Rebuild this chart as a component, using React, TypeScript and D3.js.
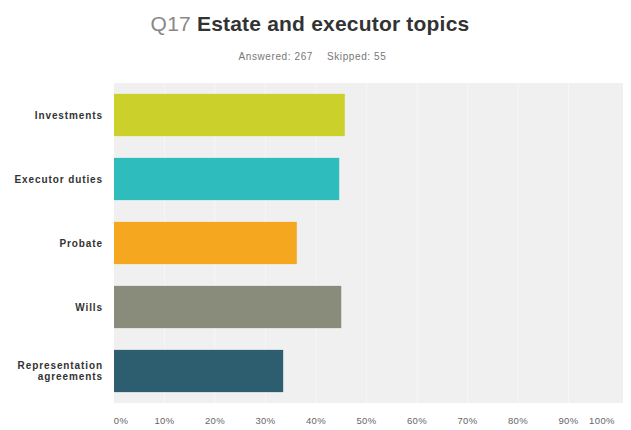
import { useEffect, useRef } from 'react'
import * as d3 from 'd3'

const categories = ['Investments', 'Executor duties', 'Probate', 'Wills', 'Representation agreements']
const values = [0.457, 0.446, 0.362, 0.45, 0.335]
const colors = ['#cbd12a', '#2fbcbd', '#f5a81f', '#898b7b', '#2c5e70']
const tickValues = [0, 0.1, 0.2, 0.3, 0.4, 0.5, 0.6, 0.7, 0.8, 0.9, 1]
const answered = 267
const skipped = 55

const width = 631
const height = 430

export default function App() {
  const svgRef = useRef<SVGSVGElement | null>(null)

  useEffect(() => {
    const svg = d3.select(svgRef.current)
    svg.selectAll('*').remove()

    const plot = { left: 114, right: 623, top: 83, bottom: 403 }

    const x = d3.scaleLinear().domain([0, 1]).range([114, 619])
    const y = d3
      .scaleBand<string>()
      .domain(categories)
      .range([plot.top, plot.bottom])
      .paddingInner(0.34)
      .paddingOuter(0.17)

    // background
    svg
      .append('rect')
      .attr('x', plot.left)
      .attr('y', plot.top)
      .attr('width', plot.right - plot.left)
      .attr('height', plot.bottom - plot.top)
      .attr('fill', '#f0f0f0')

    // gridlines
    svg
      .selectAll('.grid')
      .data(tickValues.slice(1, -1))
      .join('line')
      .attr('class', 'grid')
      .attr('x1', (d) => x(d))
      .attr('x2', (d) => x(d))
      .attr('y1', plot.top)
      .attr('y2', plot.bottom)
      .attr('stroke', '#f6f6f6')
      .attr('stroke-width', 1)

    // bars
    svg
      .selectAll('.bar')
      .data(categories)
      .join('rect')
      .attr('class', 'bar')
      .attr('x', x(0))
      .attr('y', (d) => y(d) as number)
      .attr('width', (_, i) => x(values[i]) - x(0))
      .attr('height', y.bandwidth())
      .attr('fill', (_, i) => colors[i])

    // category labels
    const labels = svg
      .selectAll('.cat')
      .data(categories)
      .join('text')
      .attr('class', 'cat')
      .attr('text-anchor', 'end')
      .attr('font-family', 'Arial, Liberation Sans, sans-serif')
      .attr('font-size', 10)
      .attr('letter-spacing', 0.9)
      .attr('font-weight', 'bold')
      .attr('fill', '#333')
    labels.each(function (d) {
      const t = d3.select(this)
      const cy = (y(d) as number) + y.bandwidth() / 2
      const lines = d === 'Representation agreements' ? ['Representation', 'agreements'] : [d]
      lines.forEach((ln, i) => {
        t.append('tspan')
          .attr('x', 103)
          .attr('y', cy + 3.5 + (i - (lines.length - 1) / 2) * 11)
          .text(ln)
      })
    })

    // x tick labels
    svg
      .selectAll('.tick-label')
      .data(tickValues)
      .join('text')
      .attr('class', 'tick-label')
      .attr('x', (d) => Math.max(121, Math.min(602, x(d))))
      .attr('y', 424)
      .attr('text-anchor', 'middle')
      .attr('font-family', 'Arial, Liberation Sans, sans-serif')
      .attr('font-size', 9.5)
      .attr('letter-spacing', 0.4)
      .attr('fill', '#666')
      .text((d) => d3.format('.0%')(d))

    // title
    const title = svg
      .append('text')
      .attr('x', 310)
      .attr('y', 31)
      .attr('text-anchor', 'middle')
      .attr('font-family', 'Arial, Liberation Sans, sans-serif')
      .attr('font-size', 21)
      .attr('letter-spacing', 0.2)
    title.append('tspan').attr('fill', '#888').text('Q17 ')
    title.append('tspan').attr('fill', '#333').attr('font-weight', 'bold').text('Estate and executor topics')

    // subtitle
    const sub = svg
      .append('g')
      .attr('font-family', 'Arial, Liberation Sans, sans-serif')
      .attr('font-size', 10)
      .attr('letter-spacing', 0.6)
      .attr('fill', '#777')
    sub.append('text').attr('x', 313).attr('y', 60).attr('text-anchor', 'end').text(`Answered: ${answered}`)
    sub.append('text').attr('x', 327).attr('y', 60).attr('text-anchor', 'start').text(`Skipped: ${skipped}`)
  }, [])

  return (
    <svg
      ref={svgRef}
      width={width}
      height={height}
      style={{ position: 'absolute', left: 0, top: 0, background: '#fff' }}
    />
  )
}
